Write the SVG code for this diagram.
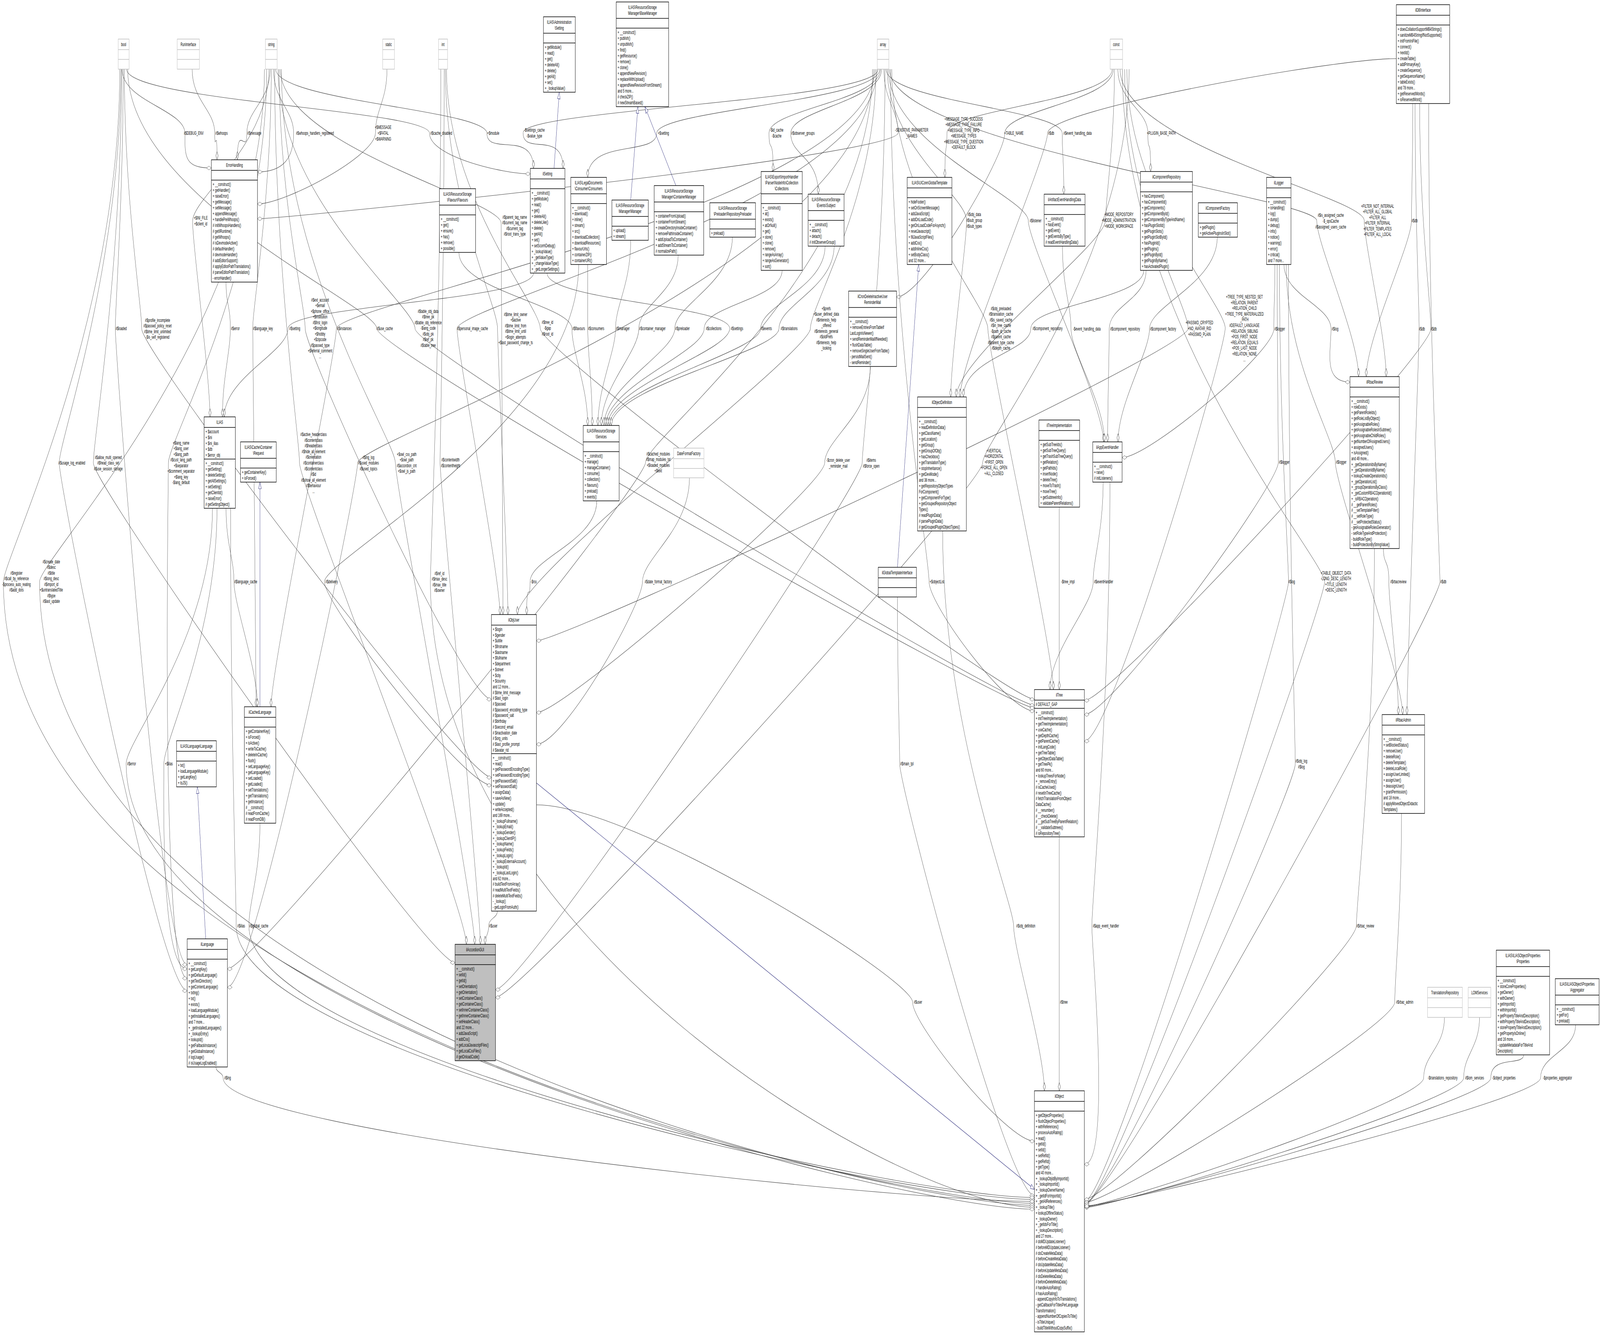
<svg xmlns="http://www.w3.org/2000/svg" width="7078" height="3417" viewBox="0 0 7078 3417" preserveAspectRatio="none" style="width:100vw;height:100vh;display:block">
<style>
text{font-family:"Liberation Sans",Arial,sans-serif;font-size:12px;fill:#000}
.c{text-anchor:middle}
.l{text-anchor:middle}
.n rect{fill:#fff;stroke:#000;stroke-width:1.5}
.n line{stroke:#000;stroke-width:1.5}
.u rect{stroke:#bfbfbf}
.u line{stroke:#bfbfbf}
.g rect{fill:#bfbfbf}
.e path{fill:none;stroke:#404040;stroke-width:1.1;marker-end:url(#dia)}
.i path{fill:none;stroke:#191970;stroke-width:1.1;marker-end:url(#tri)}
</style>
<defs>
<marker id="dia" markerWidth="24" markerHeight="12" refX="22" refY="6" orient="auto" markerUnits="userSpaceOnUse"><path d="M1,6 L11.5,1 L22,6 L11.5,11 Z" fill="#fff" stroke="#404040"/></marker>
<marker id="tri" markerWidth="20" markerHeight="14" refX="18" refY="7" orient="auto" markerUnits="userSpaceOnUse"><path d="M1,1 L18,7 L1,13 Z" fill="#fff" stroke="#191970"/></marker>
</defs>
<rect width="7078" height="3417" fill="#fff"/>

<g id="edges">
<g class="e">
<path d="M540,177 C540,259 818,281 818,341 C818,401 815,430 935,430"/>
<path d="M850,177 C850,259 950,281 950,341 C950,401 960,309 960,409"/>
<path d="M1195,177 C1195,259 1092,281 1092,341 C1092,401 1050,309 1050,409"/>
<path d="M1210,177 C1210,259 1299,281 1299,341 C1299,401 1259,440 1139,440"/>
<path d="M1712,177 C1712,258 1661,280 1661,340 C1661,400 1259,522 1139,522"/>
<path d="M560,177 C560,259 1900,281 1900,341 C1900,401 2226,445 2346,445"/>
<path d="M1220,177 C1220,259 2154,281 2154,341 C2154,401 2360,331 2360,431"/>
<path d="M3885,177 C3885,258 2314,280 2314,340 C2314,400 2491,331 2491,431"/>
<path d="M3892,177 C3892,259 2905,281 2905,341 C2905,401 2600,354 2600,454"/>
<path d="M3895,177 C3895,258 3402,280 3402,340 C3402,400 3420,339 3420,439"/>
<path d="M3900,177 C3900,259 3498,281 3498,341 C3498,401 3620,397 3620,497"/>
<path d="M3910,177 C3910,258 3973,280 3973,340 C3973,400 1259,560 1139,560"/>
<path d="M4920,177 C4920,258 4189,280 4189,340 C4189,400 4180,354 4180,454"/>
<path d="M4925,177 C4925,259 4445,281 4445,341 C4445,401 4086,760 3966,760"/>
<path d="M6177,150 C5900,150 4634,281 4634,341 C4634,401 4247,916 4247,1016"/>
<path d="M3920,177 C3920,259 4699,281 4699,341 C4699,401 4706,397 4706,497"/>
<path d="M4945,177 C4945,259 5078,281 5078,341 C5078,401 5090,339 5090,439"/>
<path d="M3925,177 C3925,370 4276,504 4276,564 C4276,624 4206,916 4206,1016"/>
<path d="M3930,177 C3930,371 4549,505 4549,565 C4549,625 4882,1031 4882,1131"/>
<path d="M4930,177 C4930,370 4891,504 4891,564 C4891,624 4230,916 4230,1016"/>
<path d="M3935,177 C3935,371 5825,505 5825,565 C5825,625 6010,864 6010,964"/>
<path d="M4955,177 C4955,370 6035,504 6035,564 C6035,624 6132,864 6132,964"/>
<path d="M6250,265 C6250,415 6244,505 6244,565 C6244,625 6044,864 6044,964"/>
<path d="M6260,265 C6260,553 6278,782 6278,842 C6278,902 6224,1729 6224,1829"/>
<path d="M6280,265 C6280,553 6330,782 6330,842 C6330,902 4917,1793 4797,1793"/>
<path d="M5640,677 C5640,757 5635,782 5635,842 C5635,902 5084,1171 4964,1171"/>
<path d="M5680,677 C5680,757 5888,782 5888,842 C5888,902 5852,978 5972,978"/>
<path d="M5650,677 C5650,928 5655,1123 5655,1183 C5655,1243 4917,1829 4797,1829"/>
<path d="M5690,677 C5690,928 5907,1123 5907,1183 C5907,1243 6205,1729 6205,1829"/>
<path d="M5660,677 C5660,1081 5700,1429 5700,1489 C5700,1549 4917,3075 4797,3075"/>
<path d="M5700,677 C5700,1314 5730,1895 5730,1955 C5730,2015 4917,3080 4797,3080"/>
<path d="M4965,177 C4965,833 5860,1429 5860,1489 C5860,1549 4917,3085 4797,3085"/>
<path d="M6120,1404 C6120,1448 6144,1429 6144,1489 C6144,1549 6186,1729 6186,1829"/>
<path d="M6080,1404 C6080,1889 6000,2310 6000,2370 C6000,2430 4917,3070 4797,3070"/>
<path d="M6200,2082 C6200,2323 6170,2505 6170,2565 C6170,2625 4917,3078 4797,3078"/>
<path d="M6320,265 C6320,877 6370,1429 6370,1489 C6370,1549 4917,3083 4797,3083"/>
<path d="M6390,2604 C6390,2681 6298,2699 6298,2759 C6298,2819 4917,3088 4797,3088"/>
<path d="M6545,2604 C6545,2681 6475,2699 6475,2759 C6475,2819 4917,3091 4797,3091"/>
<path d="M6740,2700 C6740,2730 6595,2699 6595,2759 C6595,2819 4917,3089 4797,3089"/>
<path d="M6970,2623 C6970,2691 6815,2699 6815,2759 C6815,2819 4917,3087 4797,3087"/>
<path d="M4910,1234 C4910,1802 4830,2310 4830,2370 C4830,2430 4917,2980 4797,2980"/>
<path d="M4880,1234 C4880,1362 4836,1429 4836,1489 C4836,1549 4645,1665 4645,1765"/>
<path d="M4686,1298 L4686,1765"/>
<path d="M4686,2142 L4686,2792"/>
<path d="M4170,1359 C4170,1865 4484,2310 4484,2370 C4484,2430 4620,2692 4620,2792"/>
<path d="M2373,2060 C2800,2060 4037,2505 4037,2565 C4037,2625 4456,2921 4576,2921"/>
<path d="M3970,1528 C3970,1742 3980,1895 3980,1955 C3980,2015 4456,3060 4576,3060"/>
<path d="M3940,177 C3940,833 4110,1429 4110,1489 C4110,1549 4456,1820 4576,1820"/>
<path d="M3945,177 C3945,509 4370,781 4370,841 C4370,901 4660,1665 4660,1765"/>
<path d="M5060,692 C5060,766 4560,781 4560,841 C4560,901 4262,916 4262,1016"/>
<path d="M4700,630 C4700,736 4738,782 4738,842 C4738,902 4886,1031 4886,1131"/>
<path d="M5070,692 C5070,767 4907,782 4907,842 C4907,902 4900,1031 4900,1131"/>
<path d="M5385,607 C5385,725 5085,782 5085,842 C5085,902 4946,1031 4946,1131"/>
<path d="M4975,177 C4975,509 5256,781 5256,841 C5256,901 2493,1640 2373,1640"/>
<path d="M4985,177 C4985,509 5420,780 5420,840 C5420,900 4917,1897 4797,1897"/>
<path d="M1975,177 C1975,509 2390,781 2390,841 C2390,901 4456,1790 4576,1790"/>
<path d="M2030,646 C2030,744 2530,781 2530,841 C2530,901 2600,989 2600,1089"/>
<path d="M2600,677 C2600,759 2600,781 2600,841 C2600,901 2620,989 2620,1089"/>
<path d="M2790,615 C2790,728 2723,781 2723,841 C2723,901 2645,989 2645,1089"/>
<path d="M3000,653 C3000,747 2826,781 2826,841 C2826,901 2660,989 2660,1089"/>
<path d="M3240,607 C3240,724 2985,781 2985,841 C2985,901 2672,989 2672,1089"/>
<path d="M3460,692 C3460,766 3115,781 3115,841 C3115,901 2680,989 2680,1089"/>
<path d="M2420,699 C2420,770 3228,781 3228,841 C3228,901 2688,989 2688,1089"/>
<path d="M3650,630 C3650,736 3365,781 3365,841 C3365,901 2696,989 2696,1089"/>
<path d="M3690,630 C3690,736 3446,781 3446,841 C3446,901 2704,989 2704,1089"/>
<path d="M3875,177 C3875,509 3585,781 3585,841 C3585,901 2289,1473 2289,1573"/>
<path d="M3850,938 C3850,1062 3648,1125 3648,1185 C3648,1245 2493,1824 2373,1824"/>
<path d="M3915,177 C3915,681 3814,1125 3814,1185 C3814,1245 2312,2533 2192,2533"/>
<path d="M4995,177 C4995,681 4347,1125 4347,1185 C4347,1245 2312,2553 2192,2553"/>
<path d="M3860,177 C3860,680 2856,1123 2856,1183 C2856,1243 1126,2480 1006,2480"/>
<path d="M3050,1223 C3050,1356 2842,1429 2842,1489 C2842,1549 2493,1905 2373,1905"/>
<path d="M2640,1282 C2640,1385 2345,1429 2345,1489 C2345,1549 2330,1473 2330,1573"/>
<path d="M3880,177 C3880,509 2022,781 2022,841 C2022,901 2212,1473 2212,1573"/>
<path d="M1970,177 C1970,509 2201,781 2201,841 C2201,901 2247,1473 2247,1573"/>
<path d="M1230,177 C1230,509 1836,781 1836,841 C1836,901 4456,1805 4576,1805"/>
<path d="M565,177 C565,509 1667,781 1667,841 C1667,901 4456,1812 4576,1812"/>
<path d="M3870,177 C3870,509 1488,781 1488,841 C1488,901 1199,1709 1199,1809"/>
<path d="M1235,177 C1235,509 1350,781 1350,841 C1350,901 2054,1790 2174,1790"/>
<path d="M2360,699 C2360,770 1274,781 1274,841 C1274,901 992,967 992,1067"/>
<path d="M1200,177 C1200,509 1118,781 1118,841 C1118,901 1133,1709 1133,1809"/>
<path d="M1000,722 C1000,781 1019,781 1019,841 C1019,901 984,967 984,1067"/>
<path d="M550,177 C550,509 627,782 627,842 C627,902 2054,1990 2174,1990"/>
<path d="M545,177 C545,509 510,781 510,841 C510,901 708,2469 828,2469"/>
<path d="M1190,177 C1190,371 852,506 852,566 C852,626 929,967 929,1067"/>
<path d="M1240,177 C1240,374 2217,511 2217,571 C2217,631 2225,1473 2225,1573"/>
<path d="M535,177 C535,681 262,1125 262,1185 C262,1245 708,2536 828,2536"/>
<path d="M538,177 C538,681 413,1125 413,1185 C413,1245 1893,2464 2013,2464"/>
<path d="M1180,177 C1180,681 745,1125 745,1185 C745,1245 708,2504 828,2504"/>
<path d="M1215,177 C1215,681 1325,1125 1325,1185 C1325,1245 2063,2317 2063,2417"/>
<path d="M3865,177 C3865,681 1582,1125 1582,1185 C1582,1245 1126,2527 1006,2527"/>
<path d="M1245,177 C1245,681 1749,1125 1749,1185 C1749,1245 2100,2317 2100,2417"/>
<path d="M1965,177 C1965,681 1947,1125 1947,1185 C1947,1245 2125,2317 2125,2417"/>
<path d="M530,177 C530,833 15,1429 15,1489 C15,2600 4000,3080 4576,3080"/>
<path d="M1170,177 C1170,833 175,1429 175,1489 C175,2600 4000,3085 4576,3085"/>
<path d="M1000,1301 C1000,1395 1035,1429 1035,1489 C1035,1549 1139,1709 1139,1809"/>
<path d="M2560,677 C2560,1083 1435,1429 1435,1489 C1435,1549 2054,2010 2174,2010"/>
<path d="M1950,177 C1950,833 1904,1429 1904,1489 C1904,2400 4000,3090 4576,3090"/>
<path d="M940,1301 C940,1628 558,1895 558,1955 C558,2600 4000,3095 4576,3095"/>
<path d="M960,1301 C960,1628 725,1895 725,1955 C725,2015 708,2480 828,2480"/>
<path d="M1020,1301 C1020,1835 1045,2310 1045,2370 C1045,2700 4000,3070 4576,3070"/>
<path d="M1150,2107 C1150,2238 1101,2310 1101,2370 C1101,2700 4000,3065 4576,3065"/>
<path d="M2200,2332 C2200,2350 2162,2350 2162,2370 C2162,2390 2146,2397 2146,2417"/>
<path d="M955,2731 C955,2745 987,2745 987,2759 C987,2900 4000,3075 4576,3075"/>
</g>
<g class="i">
<path d="M2451,431 L2474,236"/>
<path d="M2790,512 L2822,273"/>
<path d="M2990,475 L2853,273"/>
<path d="M3970,1452 L4064,677"/>
<path d="M1150,1809 L1150,1234"/>
<path d="M910,2403 L873,2014"/>
<path d="M2373,2004 L4576,3044"/>
</g>
<g id="labels">
<text class="l" x="857" y="345">#$DEBUG_ENV</text>
<text class="l" x="980" y="345">#$whoops</text>
<text class="l" x="1125" y="345">#$message</text>
<text class="l" x="1393" y="345">#$whoops_handlers_registered</text>
<text class="l" x="1695" y="330">+$MESSAGE<tspan x="1695" dy="15">+$FATAL</tspan><tspan x="1695" dy="15">+$WARNING</tspan></text>
<text class="l" x="1952" y="345">#$cache_disabled</text>
<text class="l" x="2182" y="345">+$module</text>
<text class="l" x="2364" y="337">-$settings_cache<tspan x="2364" dy="15">-$value_type</tspan></text>
<text class="l" x="2935" y="345">+$setting</text>
<text class="l" x="3436" y="337">-$id_cache<tspan x="3436" dy="15">-$cache</tspan></text>
<text class="l" x="3552" y="345">#$observer_groups</text>
<text class="l" x="4033" y="337">-SENSITIVE_PARAMETER<tspan x="4033" dy="15">_NAMES</tspan></text>
<text class="l" x="4263" y="309">+MESSAGE_TYPE_SUCCESS<tspan x="4263" dy="14.5">+MESSAGE_TYPE_FAILURE</tspan><tspan x="4263" dy="14.5">+MESSAGE_TYPE_INFO</tspan><tspan x="4263" dy="14.5">+MESSAGE_TYPES</tspan><tspan x="4263" dy="14.5">+MESSAGE_TYPE_QUESTION</tspan><tspan x="4263" dy="14.5">+DEFAULT_BLOCK</tspan></text>
<text class="l" x="4485" y="345">+TABLE_NAME</text>
<text class="l" x="4650" y="345">#$db</text>
<text class="l" x="4767" y="345">#$event_handling_data</text>
<text class="l" x="5137" y="345">+PLUGIN_BASE_PATH</text>
<text class="l" x="888" y="562">+$INI_FILE<tspan x="888" dy="15">+$client_id</tspan></text>
<text class="l" x="2277" y="560">#$parent_tag_name<tspan x="2277" dy="14.5">#$current_tag_name</tspan><tspan x="2277" dy="14.5">#$current_tag</tspan><tspan x="2277" dy="14.5">#$root_trans_type</tspan></text>
<text class="l" x="4310" y="553">#$obj_data<tspan x="4310" dy="15">#$sub_group</tspan><tspan x="4310" dy="15">#$sub_types</tspan></text>
<text class="l" x="4581" y="569">#$listener</text>
<text class="l" x="4950" y="553">+MODE_REPOSITORY<tspan x="4950" dy="15">+MODE_ADMINISTRATION</tspan><tspan x="4950" dy="15">+MODE_WORKSPACE</tspan></text>
<text class="l" x="5887" y="555">#$is_assigned_cache<tspan x="5887" dy="15">-$_opsCache</tspan><tspan x="5887" dy="15">#$assigned_users_cache</tspan></text>
<text class="l" x="6094" y="532">+FILTER_NOT_INTERNAL<tspan x="6094" dy="14.5">+FILTER_ALL_GLOBAL</tspan><tspan x="6094" dy="14.5">+FILTER_ALL</tspan><tspan x="6094" dy="14.5">+FILTER_INTERNAL</tspan><tspan x="6094" dy="14.5">+FILTER_TEMPLATES</tspan><tspan x="6094" dy="14.5">+FILTER_ALL_LOCAL</tspan></text>
<text class="l" x="6258" y="569">#$db</text>
<text class="l" x="536" y="845">#$loaded</text>
<text class="l" x="697" y="824">#$profile_incomplete<tspan x="697" dy="14.5">#$passwd_policy_reset</tspan><tspan x="697" dy="14.5">#$time_limit_unlimited</tspan><tspan x="697" dy="14.5">-$is_self_registered</tspan></text>
<text class="l" x="1041" y="845">#$error</text>
<text class="l" x="1163" y="845">#$language_key</text>
<text class="l" x="1304" y="845">#$setting</text>
<text class="l" x="1416" y="772">#$ext_account<tspan x="1416" dy="14.5">+$email</tspan><tspan x="1416" dy="14.5">+$phone_office</tspan><tspan x="1416" dy="14.5">+$institution</tspan><tspan x="1416" dy="14.5">#$first_login</tspan><tspan x="1416" dy="14.5">+$longitude</tspan><tspan x="1416" dy="14.5">+$hobby</tspan><tspan x="1416" dy="14.5">+$zipcode</tspan><tspan x="1416" dy="14.5">#$passwd_type</tspan><tspan x="1416" dy="14.5">+$referral_comment</tspan><tspan x="1416" dy="14.5">...</tspan></text>
<text class="l" x="1523" y="845">#$instances</text>
<text class="l" x="1702" y="845">#$use_cache</text>
<text class="l" x="1894" y="801">#$table_obj_data<tspan x="1894" dy="14.5">#$tree_pk</tspan><tspan x="1894" dy="14.5">#$table_obj_reference</tspan><tspan x="1894" dy="14.5">-$lang_code</tspan><tspan x="1894" dy="14.5">#$obj_pk</tspan><tspan x="1894" dy="14.5">#$ref_pk</tspan><tspan x="1894" dy="14.5">#$table_tree</tspan></text>
<text class="l" x="2090" y="845">#$personal_image_cache</text>
<text class="l" x="2281" y="809">#$time_limit_owner<tspan x="2281" dy="14.5">+$active</tspan><tspan x="2281" dy="14.5">#$time_limit_from</tspan><tspan x="2281" dy="14.5">#$time_limit_until</tspan><tspan x="2281" dy="14.5">+$login_attempts</tspan><tspan x="2281" dy="14.5">+$last_password_change_ts</tspan></text>
<text class="l" x="2422" y="829">#$tree_id<tspan x="2422" dy="15">-$gap</tspan><tspan x="2422" dy="15">#$root_id</tspan></text>
<text class="l" x="2560" y="845">#$flavours</text>
<text class="l" x="2637" y="845">#$consumers</text>
<text class="l" x="2755" y="845">#$manager</text>
<text class="l" x="2886" y="845">#$container_manager</text>
<text class="l" x="3019" y="845">#$preloader</text>
<text class="l" x="3157" y="845">#$collections</text>
<text class="l" x="3260" y="845">#$settings</text>
<text class="l" x="3390" y="845">#$events</text>
<text class="l" x="3491" y="845">#$translations</text>
<text class="l" x="3655" y="794">+$prefs<tspan x="3655" dy="14.5">+$user_defined_data</tspan><tspan x="3655" dy="14.5">#$interests_help</tspan><tspan x="3655" dy="14.5">_offered</tspan><tspan x="3655" dy="14.5">#$interests_general</tspan><tspan x="3655" dy="14.5">#$oldPrefs</tspan><tspan x="3655" dy="14.5">#$interests_help</tspan><tspan x="3655" dy="14.5">_looking</tspan></text>
<text class="l" x="4428" y="794">#$obj_preloaded<tspan x="4428" dy="14.5">#$translation_cache</tspan><tspan x="4428" dy="14.5">#$is_saved_cache</tspan><tspan x="4428" dy="14.5">#$in_tree_cache</tspan><tspan x="4428" dy="14.5">-$path_id_cache</tspan><tspan x="4428" dy="14.5">#$parent_cache</tspan><tspan x="4428" dy="14.5">#$parent_type_cache</tspan><tspan x="4428" dy="14.5">#$depth_cache</tspan></text>
<text class="l" x="4634" y="845">#$component_repository</text>
<text class="l" x="4808" y="846">-$event_handling_data</text>
<text class="l" x="4977" y="846">#$component_repository</text>
<text class="l" x="5145" y="846">#$component_factory</text>
<text class="l" x="5306" y="830">+PASSWD_CRYPTED<tspan x="5306" dy="15">+NO_AVATAR_RID</tspan><tspan x="5306" dy="15">+PASSWD_PLAIN</tspan></text>
<text class="l" x="5505" y="764">+TREE_TYPE_NESTED_SET<tspan x="5505" dy="14.6">+RELATION_PARENT</tspan><tspan x="5505" dy="14.6">+RELATION_CHILD</tspan><tspan x="5505" dy="14.6">+TREE_TYPE_MATERIALIZED</tspan><tspan x="5505" dy="14.6">_PATH</tspan><tspan x="5505" dy="14.6">#DEFAULT_LANGUAGE</tspan><tspan x="5505" dy="14.6">+RELATION_SIBLING</tspan><tspan x="5505" dy="14.6">+POS_FIRST_NODE</tspan><tspan x="5505" dy="14.6">+RELATION_EQUALS</tspan><tspan x="5505" dy="14.6">+POS_LAST_NODE</tspan><tspan x="5505" dy="14.6">+RELATION_NONE</tspan><tspan x="5505" dy="14.6">...</tspan></text>
<text class="l" x="5661" y="846">#$logger</text>
<text class="l" x="5906" y="846">#$log</text>
<text class="l" x="6290" y="846">#$db</text>
<text class="l" x="6342" y="846">#$db</text>
<text class="l" x="5681" y="1187">#$logger</text>
<text class="l" x="5933" y="1187">#$logger</text>
<text class="l" x="318" y="1189">#$usage_log_enabled</text>
<text class="l" x="479" y="1175">#$allow_multi_opened<tspan x="479" dy="14.5">#$head_class_set</tspan><tspan x="479" dy="14.5">#$use_session_storage</tspan></text>
<text class="l" x="801" y="1138">+$lang_name<tspan x="801" dy="14.5">+$lang_user</tspan><tspan x="801" dy="14.5">+$lang_path</tspan><tspan x="801" dy="14.5">#$cust_lang_path</tspan><tspan x="801" dy="14.5">+$separator</tspan><tspan x="801" dy="14.5">+$comment_separator</tspan><tspan x="801" dy="14.5">+$lang_key</tspan><tspan x="801" dy="14.5">-$lang_default</tspan></text>
<text class="l" x="1387" y="1116">#$active_headerclass<tspan x="1387" dy="14.6">#$contentclass</tspan><tspan x="1387" dy="14.6">#$headerclass</tspan><tspan x="1387" dy="14.6">#$hide_all_element</tspan><tspan x="1387" dy="14.6">#$orientation</tspan><tspan x="1387" dy="14.6">#$containerclass</tspan><tspan x="1387" dy="14.6">#$contentclass</tspan><tspan x="1387" dy="14.6">#$id</tspan><tspan x="1387" dy="14.6">#$show_all_element</tspan><tspan x="1387" dy="14.6">#$behaviour</tspan><tspan x="1387" dy="14.6">...</tspan></text>
<text class="l" x="1630" y="1175">#$lng_log<tspan x="1630" dy="14.5">#$used_modules</tspan><tspan x="1630" dy="14.5">#$used_topics</tspan></text>
<text class="l" x="1799" y="1167">+$owl_css_path<tspan x="1799" dy="14.5">+$owl_path</tspan><tspan x="1799" dy="14.5">#$accordion_cnt</tspan><tspan x="1799" dy="14.5">+$owl_js_path</tspan></text>
<text class="l" x="1993" y="1181">#$contentwidth<tspan x="1993" dy="15">#$contentheight</tspan></text>
<text class="l" x="2912" y="1166">#$cached_modules<tspan x="2912" dy="14.5">#$map_modules_txt</tspan><tspan x="2912" dy="14.5">+$loaded_modules</tspan><tspan x="2912" dy="14.5">+$text</tspan></text>
<text class="l" x="3708" y="1182">-$cron_delete_user<tspan x="3708" dy="15">_reminder_mail</tspan></text>
<text class="l" x="3854" y="1182">#$items<tspan x="3854" dy="15">#$force_open</tspan></text>
<text class="l" x="4397" y="1158">+VERTICAL<tspan x="4397" dy="14.5">+HORIZONTAL</tspan><tspan x="4397" dy="14.5">+FIRST_OPEN</tspan><tspan x="4397" dy="14.5">+FORCE_ALL_OPEN</tspan><tspan x="4397" dy="14.5">+ALL_CLOSED</tspan></text>
<text class="l" x="73" y="1471">#$register<tspan x="73" dy="14.5">#$call_by_reference</tspan><tspan x="73" dy="14.5">-$process_auto_reating</tspan><tspan x="73" dy="14.5">#$add_dots</tspan></text>
<text class="l" x="227" y="1442">#$create_date<tspan x="227" dy="14.5">#$desc</tspan><tspan x="227" dy="14.5">#$title</tspan><tspan x="227" dy="14.5">#$long_desc</tspan><tspan x="227" dy="14.5">#$import_id</tspan><tspan x="227" dy="14.5">+$untranslatedTitle</tspan><tspan x="227" dy="14.5">#$type</tspan><tspan x="227" dy="14.5">#$last_update</tspan></text>
<text class="l" x="1087" y="1493">#$language_cache</text>
<text class="l" x="1467" y="1493">#$delivery</text>
<text class="l" x="1944" y="1472">#$ref_id<tspan x="1944" dy="14.5">#$max_desc</tspan><tspan x="1944" dy="14.5">#$max_title</tspan><tspan x="1944" dy="14.5">#$owner</tspan></text>
<text class="l" x="2361" y="1493">-$rss</text>
<text class="l" x="2912" y="1493">#$date_format_factory</text>
<text class="l" x="4145" y="1493">+$objectList</text>
<text class="l" x="4724" y="1493">-$tree_impl</text>
<text class="l" x="4882" y="1493">#$eventHandler</text>
<text class="l" x="5714" y="1493">#$log</text>
<text class="l" x="5910" y="1471">+TABLE_OBJECT_DATA<tspan x="5910" dy="14.5">-LONG_DESC_LENGTH</tspan><tspan x="5910" dy="14.5">+TITLE_LENGTH</tspan><tspan x="5910" dy="14.5">+DESC_LENGTH</tspan></text>
<text class="l" x="6186" y="1493">#$rbacreview</text>
<text class="l" x="6385" y="1493">#$db</text>
<text class="l" x="582" y="1959">#$error</text>
<text class="l" x="747" y="1959">+$ilias</text>
<text class="l" x="4012" y="1959">#$main_tpl</text>
<text class="l" x="5757" y="1952">#$obj_log<tspan x="5757" dy="15">#$log</tspan></text>
<text class="l" x="1067" y="2374">#$ilias</text>
<text class="l" x="1145" y="2374">#$global_cache</text>
<text class="l" x="2182" y="2374">#$user</text>
<text class="l" x="4538" y="2374">#$obj_definition</text>
<text class="l" x="4892" y="2374">#$app_event_handler</text>
<text class="l" x="6040" y="2374">#$rbac_review</text>
<text class="l" x="4061" y="2569">#$user</text>
<text class="l" x="4706" y="2569">#$tree</text>
<text class="l" x="6214" y="2569">#$rbac_admin</text>
<text class="l" x="1007" y="2763">#$lng</text>
<text class="l" x="6382" y="2763">-$translations_repository</text>
<text class="l" x="6523" y="2763">#$lom_services</text>
<text class="l" x="6653" y="2763">-$object_properties</text>
<text class="l" x="6890" y="2763">-$properties_aggregator</text>
</g>
</g>

<g id="bool" class="n u"><rect x="523" y="100" width="48" height="77"/><line x1="523" y1="127" x2="571" y2="127"/><line x1="523" y1="152" x2="571" y2="152"/><text class="c" x="547" y="118">bool</text></g>
<g id="RunInterface" class="n u"><rect x="784" y="100" width="98" height="77"/><line x1="784" y1="127" x2="882" y2="127"/><line x1="784" y1="152" x2="882" y2="152"/><text class="c" x="833" y="118">RunInterface</text></g>
<g id="string" class="n u"><rect x="1174" y="100" width="52" height="77"/><line x1="1174" y1="127" x2="1226" y2="127"/><line x1="1174" y1="152" x2="1226" y2="152"/><text class="c" x="1200" y="118">string</text></g>
<g id="static" class="n u"><rect x="1693" y="100" width="52" height="77"/><line x1="1693" y1="127" x2="1745" y2="127"/><line x1="1693" y1="152" x2="1745" y2="152"/><text class="c" x="1719" y="118">static</text></g>
<g id="int" class="n u"><rect x="1940" y="100" width="40" height="77"/><line x1="1940" y1="127" x2="1980" y2="127"/><line x1="1940" y1="152" x2="1980" y2="152"/><text class="c" x="1960" y="118">int</text></g>
<g id="array" class="n u"><rect x="3881" y="100" width="51" height="77"/><line x1="3881" y1="127" x2="3932" y2="127"/><line x1="3881" y1="152" x2="3932" y2="152"/><text class="c" x="3906" y="118">array</text></g>
<g id="const" class="n u"><rect x="4911" y="100" width="55" height="77"/><line x1="4911" y1="127" x2="4966" y2="127"/><line x1="4911" y1="152" x2="4966" y2="152"/><text class="c" x="4938" y="118">const</text></g>
<g id="DateFormatFactory" class="n u"><rect x="2980" y="1147" width="134" height="76"/><line x1="2980" y1="1174" x2="3114" y2="1174"/><line x1="2980" y1="1199" x2="3114" y2="1199"/><text class="c" x="3047" y="1165">DateFormatFactory</text></g>
<g id="TranslationsRepository" class="n u"><rect x="6315" y="2527" width="154" height="77"/><line x1="6315" y1="2554" x2="6469" y2="2554"/><line x1="6315" y1="2579" x2="6469" y2="2579"/><text class="c" x="6392" y="2545">TranslationsRepository</text></g>
<g id="LOMServices" class="n u"><rect x="6495" y="2527" width="100" height="77"/><line x1="6495" y1="2554" x2="6595" y2="2554"/><line x1="6495" y1="2579" x2="6595" y2="2579"/><text class="c" x="6545" y="2545">LOMServices</text></g>
<g id="ilGlobalTemplateInterface" class="n"><rect x="3885" y="1452" width="169" height="76"/><line x1="3885" y1="1479" x2="4054" y2="1479"/><line x1="3885" y1="1504" x2="4054" y2="1504"/><text class="c" x="3969" y="1470">ilGlobalTemplateInterface</text></g>

<g id="ErrorHandling" class="n"><rect x="935" y="409" width="204" height="313"/><line x1="935" y1="436" x2="1139" y2="436"/><line x1="935" y1="461" x2="1139" y2="461"/><text class="c" x="1037" y="427">ErrorHandling</text>
<text x="941" y="476">+ __construct()<tspan x="941" dy="15">+ getHandler()</tspan><tspan x="941" dy="15">+ raiseError()</tspan><tspan x="941" dy="15">+ getMessage()</tspan><tspan x="941" dy="15">+ setMessage()</tspan><tspan x="941" dy="15">+ appendMessage()</tspan><tspan x="941" dy="15">+ handlePreWhoops()</tspan><tspan x="941" dy="15"># initWhoopsHandlers()</tspan><tspan x="941" dy="15"># getIlRuntime()</tspan><tspan x="941" dy="15"># getWhoops()</tspan><tspan x="941" dy="15"># isDevmodeActive()</tspan><tspan x="941" dy="15"># defaultHandler()</tspan><tspan x="941" dy="15"># devmodeHandler()</tspan><tspan x="941" dy="15"># addEditorSupport()</tspan><tspan x="941" dy="15"># applyEditorPathTranslations()</tspan><tspan x="941" dy="15"># parseEditorPathTranslation()</tspan><tspan x="941" dy="15">- errorHandler()</tspan></text></g>

<g id="Flavours" class="n"><rect x="1944" y="483" width="160" height="163"/><line x1="1944" y1="525" x2="2104" y2="525"/><line x1="1944" y1="550" x2="2104" y2="550"/><text class="c" x="2024" y="501">ILIAS\ResourceStorage<tspan x="2024" dy="15">\Flavour\Flavours</tspan></text>
<text x="1950" y="565">+ __construct()<tspan x="1950" dy="15">+ get()</tspan><tspan x="1950" dy="15">+ ensure()</tspan><tspan x="1950" dy="15">+ has()</tspan><tspan x="1950" dy="15">+ remove()</tspan><tspan x="1950" dy="15">+ possible()</tspan></text></g>

<g id="ilSetting" class="n"><rect x="2346" y="431" width="153" height="268"/><line x1="2346" y1="458" x2="2499" y2="458"/><line x1="2346" y1="483" x2="2499" y2="483"/><text class="c" x="2422" y="449">ilSetting</text>
<text x="2352" y="498">+ __construct()<tspan x="2352" dy="15">+ getModule()</tspan><tspan x="2352" dy="15">+ read()</tspan><tspan x="2352" dy="15">+ get()</tspan><tspan x="2352" dy="15">+ deleteAll()</tspan><tspan x="2352" dy="15">+ deleteLike()</tspan><tspan x="2352" dy="15">+ delete()</tspan><tspan x="2352" dy="15">+ getAll()</tspan><tspan x="2352" dy="15">+ set()</tspan><tspan x="2352" dy="15">+ setScormDebug()</tspan><tspan x="2352" dy="15">+ _lookupValue()</tspan><tspan x="2352" dy="15">+ _getValueType()</tspan><tspan x="2352" dy="15">+ _changeValueType()</tspan><tspan x="2352" dy="15">+ _getLongerSettings()</tspan></text></g>

<g id="AdministrationSetting" class="n"><rect x="2404" y="43" width="141" height="193"/><line x1="2404" y1="85" x2="2545" y2="85"/><line x1="2404" y1="110" x2="2545" y2="110"/><text class="c" x="2474" y="61">ILIAS\Administration<tspan x="2474" dy="15">\Setting</tspan></text>
<text x="2410" y="125">+ getModule()<tspan x="2410" dy="15">+ read()</tspan><tspan x="2410" dy="15">+ get()</tspan><tspan x="2410" dy="15">+ deleteAll()</tspan><tspan x="2410" dy="15">+ delete()</tspan><tspan x="2410" dy="15">+ getAll()</tspan><tspan x="2410" dy="15">+ set()</tspan><tspan x="2410" dy="15">+ _lookupValue()</tspan></text></g>

<g id="BaseManager" class="n"><rect x="2726" y="5" width="232" height="268"/><line x1="2726" y1="47" x2="2958" y2="47"/><line x1="2726" y1="72" x2="2958" y2="72"/><text class="c" x="2842" y="23">ILIAS\ResourceStorage<tspan x="2842" dy="15">\Manager\BaseManager</tspan></text>
<text x="2732" y="87">+ __construct()<tspan x="2732" dy="15">+ publish()</tspan><tspan x="2732" dy="15">+ unpublish()</tspan><tspan x="2732" dy="15">+ find()</tspan><tspan x="2732" dy="15">+ getResource()</tspan><tspan x="2732" dy="15">+ remove()</tspan><tspan x="2732" dy="15">+ clone()</tspan><tspan x="2732" dy="15">+ appendNewRevision()</tspan><tspan x="2732" dy="15">+ replaceWithUpload()</tspan><tspan x="2732" dy="15">+ appendNewRevisionFromStream()</tspan><tspan x="2732" dy="15">and 5 more...</tspan><tspan x="2732" dy="15"># checkZIP()</tspan><tspan x="2732" dy="15"># newStreamBased()</tspan></text></g>

<g id="Consumers" class="n"><rect x="2525" y="454" width="158" height="223"/><line x1="2525" y1="496" x2="2683" y2="496"/><line x1="2525" y1="521" x2="2683" y2="521"/><text class="c" x="2604" y="472">ILIAS\LegalDocuments<tspan x="2604" dy="15">\Consumer\Consumers</tspan></text>
<text x="2531" y="536">+ __construct()<tspan x="2531" dy="15">+ download()</tspan><tspan x="2531" dy="15">+ inline()</tspan><tspan x="2531" dy="15">+ stream()</tspan><tspan x="2531" dy="15">+ src()</tspan><tspan x="2531" dy="15">+ downloadCollection()</tspan><tspan x="2531" dy="15">+ downloadResources()</tspan><tspan x="2531" dy="15">+ flavourUrls()</tspan><tspan x="2531" dy="15">+ containerZIP()</tspan><tspan x="2531" dy="15">+ containerURI()</tspan></text></g>

<g id="Manager" class="n"><rect x="2707" y="512" width="161" height="103"/><line x1="2707" y1="554" x2="2868" y2="554"/><line x1="2707" y1="579" x2="2868" y2="579"/><text class="c" x="2787" y="530">ILIAS\ResourceStorage<tspan x="2787" dy="15">\Manager\Manager</tspan></text>
<text x="2713" y="594">+ upload()<tspan x="2713" dy="15">+ stream()</tspan></text></g>

<g id="ContainerManager" class="n"><rect x="2894" y="475" width="219" height="178"/><line x1="2894" y1="517" x2="3113" y2="517"/><line x1="2894" y1="542" x2="3113" y2="542"/><text class="c" x="3003" y="493">ILIAS\ResourceStorage<tspan x="3003" dy="15">\Manager\ContainerManager</tspan></text>
<text x="2900" y="557">+ containerFromUpload()<tspan x="2900" dy="15">+ containerFromStream()</tspan><tspan x="2900" dy="15">+ createDirectoryInsideContainer()</tspan><tspan x="2900" dy="15">+ removePathInsideContainer()</tspan><tspan x="2900" dy="15">+ addUploadToContainer()</tspan><tspan x="2900" dy="15">+ addStreamToContainer()</tspan><tspan x="2900" dy="15"># normalizePath()</tspan></text></g>

<g id="RepositoryPreloader" class="n"><rect x="3140" y="519" width="202" height="88"/><line x1="3140" y1="561" x2="3342" y2="561"/><line x1="3140" y1="586" x2="3342" y2="586"/><text class="c" x="3241" y="537">ILIAS\ResourceStorage<tspan x="3241" dy="15">\Preloader\RepositoryPreloader</tspan></text>
<text x="3146" y="601">+ preload()</text></g>

<g id="Collections" class="n"><rect x="3367" y="439" width="182" height="253"/><line x1="3367" y1="496" x2="3549" y2="496"/><line x1="3367" y1="521" x2="3549" y2="521"/><text class="c" x="3458" y="457">ILIAS\Export\ImportHandler<tspan x="3458" dy="15">\Parser\NodeInfo\Collection</tspan><tspan x="3458" dy="15">\Collections</tspan></text>
<text x="3373" y="536">+ __construct()<tspan x="3373" dy="15">+ at()</tspan><tspan x="3373" dy="15">+ exists()</tspan><tspan x="3373" dy="15">+ atOrNull()</tspan><tspan x="3373" dy="15">+ get()</tspan><tspan x="3373" dy="15">+ store()</tspan><tspan x="3373" dy="15">+ clone()</tspan><tspan x="3373" dy="15">+ remove()</tspan><tspan x="3373" dy="15">+ rangeAsArray()</tspan><tspan x="3373" dy="15">+ rangeAsGenerator()</tspan><tspan x="3373" dy="15">+ sort()</tspan></text></g>

<g id="Subject" class="n"><rect x="3575" y="497" width="159" height="133"/><line x1="3575" y1="539" x2="3734" y2="539"/><line x1="3575" y1="564" x2="3734" y2="564"/><text class="c" x="3654" y="515">ILIAS\ResourceStorage<tspan x="3654" dy="15">\Events\Subject</tspan></text>
<text x="3581" y="579">+ __construct()<tspan x="3581" dy="15">+ attach()</tspan><tspan x="3581" dy="15">+ detach()</tspan><tspan x="3581" dy="15"># initObserverGroup()</tspan></text></g>

<g id="GlobalTemplate" class="n"><rect x="4013" y="454" width="198" height="223"/><line x1="4013" y1="481" x2="4211" y2="481"/><line x1="4013" y1="506" x2="4211" y2="506"/><text class="c" x="4112" y="472">ILIAS\UICore\GlobalTemplate</text>
<text x="4019" y="521">+ hideFooter()<tspan x="4019" dy="15">+ setOnScreenMessage()</tspan><tspan x="4019" dy="15">+ addJavaScript()</tspan><tspan x="4019" dy="15">+ addOnLoadCode()</tspan><tspan x="4019" dy="15">+ getOnLoadCodeForAsynch()</tspan><tspan x="4019" dy="15">+ resetJavascript()</tspan><tspan x="4019" dy="15">+ fillJavaScriptFiles()</tspan><tspan x="4019" dy="15">+ addCss()</tspan><tspan x="4019" dy="15">+ addInlineCss()</tspan><tspan x="4019" dy="15">+ setBodyClass()</tspan><tspan x="4019" dy="15">and 32 more...</tspan></text></g>

<g id="ilArtifactEventHandlingData" class="n"><rect x="4619" y="497" width="181" height="133"/><line x1="4619" y1="524" x2="4800" y2="524"/><line x1="4619" y1="549" x2="4800" y2="549"/><text class="c" x="4709" y="515">ilArtifactEventHandlingData</text>
<text x="4625" y="564">+ __construct()<tspan x="4625" dy="15">+ hasEvent()</tspan><tspan x="4625" dy="15">+ getEvent()</tspan><tspan x="4625" dy="15">+ getEventsByType()</tspan><tspan x="4625" dy="15"># readEventHandlingData()</tspan></text></g>

<g id="ComponentRepository" class="n"><rect x="5045" y="439" width="230" height="253"/><line x1="5045" y1="466" x2="5275" y2="466"/><line x1="5045" y1="491" x2="5275" y2="491"/><text class="c" x="5160" y="457">ilComponentRepository</text>
<text x="5051" y="506">+ hasComponent()<tspan x="5051" dy="15">+ hasComponentId()</tspan><tspan x="5051" dy="15">+ getComponents()</tspan><tspan x="5051" dy="15">+ getComponentById()</tspan><tspan x="5051" dy="15">+ getComponentByTypeAndName()</tspan><tspan x="5051" dy="15">+ hasPluginSlotId()</tspan><tspan x="5051" dy="15">+ getPluginSlots()</tspan><tspan x="5051" dy="15">+ getPluginSlotById()</tspan><tspan x="5051" dy="15">+ hasPluginId()</tspan><tspan x="5051" dy="15">+ getPlugins()</tspan><tspan x="5051" dy="15">+ getPluginById()</tspan><tspan x="5051" dy="15">+ getPluginByName()</tspan><tspan x="5051" dy="15">+ hasActivatedPlugin()</tspan></text></g>

<g id="ilComponentFactory" class="n"><rect x="5301" y="519" width="173" height="88"/><line x1="5301" y1="546" x2="5474" y2="546"/><line x1="5301" y1="571" x2="5474" y2="571"/><text class="c" x="5387" y="537">ilComponentFactory</text>
<text x="5307" y="586">+ getPlugin()<tspan x="5307" dy="15">+ getActivePluginsInSlot()</tspan></text></g>

<g id="ilLogger" class="n"><rect x="5603" y="454" width="108" height="223"/><line x1="5603" y1="481" x2="5711" y2="481"/><line x1="5603" y1="506" x2="5711" y2="506"/><text class="c" x="5657" y="472">ilLogger</text>
<text x="5609" y="521">+ __construct()<tspan x="5609" dy="15">+ isHandling()</tspan><tspan x="5609" dy="15">+ log()</tspan><tspan x="5609" dy="15">+ dump()</tspan><tspan x="5609" dy="15">+ debug()</tspan><tspan x="5609" dy="15">+ info()</tspan><tspan x="5609" dy="15">+ notice()</tspan><tspan x="5609" dy="15">+ warning()</tspan><tspan x="5609" dy="15">+ error()</tspan><tspan x="5609" dy="15">+ critical()</tspan><tspan x="5609" dy="15">and 7 more...</tspan></text></g>

<g id="ilDBInterface" class="n"><rect x="6177" y="12" width="236" height="253"/><line x1="6177" y1="39" x2="6413" y2="39"/><line x1="6177" y1="64" x2="6413" y2="64"/><text class="c" x="6295" y="30">ilDBInterface</text>
<text x="6183" y="79">+ doesCollationSupportMB4Strings()<tspan x="6183" dy="15">+ sanitizeMB4StringIfNotSupported()</tspan><tspan x="6183" dy="15">+ initFromIniFile()</tspan><tspan x="6183" dy="15">+ connect()</tspan><tspan x="6183" dy="15">+ nextId()</tspan><tspan x="6183" dy="15">+ createTable()</tspan><tspan x="6183" dy="15">+ addPrimaryKey()</tspan><tspan x="6183" dy="15">+ createSequence()</tspan><tspan x="6183" dy="15">+ getSequenceName()</tspan><tspan x="6183" dy="15">+ tableExists()</tspan><tspan x="6183" dy="15">and 78 more...</tspan><tspan x="6183" dy="15">+ getReservedWords()</tspan><tspan x="6183" dy="15">+ isReservedWord()</tspan></text></g>

<g id="ILIAS" class="n"><rect x="903" y="1067" width="138" height="234"/><line x1="903" y1="1094" x2="1041" y2="1094"/><line x1="903" y1="1175" x2="1041" y2="1175"/><text class="c" x="972" y="1085">ILIAS</text>
<text x="909" y="1109">+ $account<tspan x="909" dy="15">+ $ini</tspan><tspan x="909" dy="15">+ $ini_ilias</tspan><tspan x="909" dy="15">+ $db</tspan><tspan x="909" dy="15">+ $error_obj</tspan></text>
<text x="909" y="1190">+ __construct()<tspan x="909" dy="15">+ getSetting()</tspan><tspan x="909" dy="15">+ deleteSetting()</tspan><tspan x="909" dy="15">+ getAllSettings()</tspan><tspan x="909" dy="15">+ setSetting()</tspan><tspan x="909" dy="15">+ getClientId()</tspan><tspan x="909" dy="15">+ raiseError()</tspan><tspan x="909" dy="15"># getSettingObject()</tspan></text></g>

<g id="Request" class="n"><rect x="1064" y="1131" width="158" height="103"/><line x1="1064" y1="1173" x2="1222" y2="1173"/><line x1="1064" y1="1198" x2="1222" y2="1198"/><text class="c" x="1143" y="1149">ILIAS\Cache\Container<tspan x="1143" dy="15">\Request</tspan></text>
<text x="1070" y="1213">+ getContainerKey()<tspan x="1070" dy="15">+ isForced()</tspan></text></g>

<g id="ilCachedLanguage" class="n"><rect x="1081" y="1809" width="139" height="298"/><line x1="1081" y1="1836" x2="1220" y2="1836"/><line x1="1081" y1="1861" x2="1220" y2="1861"/><text class="c" x="1150" y="1827">ilCachedLanguage</text>
<text x="1087" y="1876">+ getContainerKey()<tspan x="1087" dy="15">+ isForced()</tspan><tspan x="1087" dy="15">+ isActive()</tspan><tspan x="1087" dy="15">+ writeToCache()</tspan><tspan x="1087" dy="15">+ deleteInCache()</tspan><tspan x="1087" dy="15">+ flush()</tspan><tspan x="1087" dy="15">+ setLanguageKey()</tspan><tspan x="1087" dy="15">+ getLanguageKey()</tspan><tspan x="1087" dy="15">+ setLoaded()</tspan><tspan x="1087" dy="15">+ getLoaded()</tspan><tspan x="1087" dy="15">+ setTranslations()</tspan><tspan x="1087" dy="15">+ getTranslations()</tspan><tspan x="1087" dy="15">+ getInstance()</tspan><tspan x="1087" dy="15"># __construct()</tspan><tspan x="1087" dy="15"># readFromCache()</tspan><tspan x="1087" dy="15"># readFromDB()</tspan></text></g>

<g id="LanguageLanguage" class="n"><rect x="781" y="1896" width="176" height="118"/><line x1="781" y1="1923" x2="957" y2="1923"/><line x1="781" y1="1948" x2="957" y2="1948"/><text class="c" x="869" y="1914">ILIAS\Language\Language</text>
<text x="787" y="1963">+ txt()<tspan x="787" dy="15">+ loadLanguageModule()</tspan><tspan x="787" dy="15">+ getLangKey()</tspan><tspan x="787" dy="15">+ toJS()</tspan></text></g>

<g id="ilObjUser" class="n"><rect x="2174" y="1573" width="199" height="759"/><line x1="2174" y1="1600" x2="2373" y2="1600"/><line x1="2174" y1="1929" x2="2373" y2="1929"/><text class="c" x="2273" y="1591">ilObjUser</text>
<text x="2180" y="1615">+ $login<tspan x="2180" dy="14.7">+ $gender</tspan><tspan x="2180" dy="14.7">+ $utitle</tspan><tspan x="2180" dy="14.7">+ $firstname</tspan><tspan x="2180" dy="14.7">+ $lastname</tspan><tspan x="2180" dy="14.7">+ $fullname</tspan><tspan x="2180" dy="14.7">+ $department</tspan><tspan x="2180" dy="14.7">+ $street</tspan><tspan x="2180" dy="14.7">+ $city</tspan><tspan x="2180" dy="14.7">+ $country</tspan><tspan x="2180" dy="14.7">and 12 more...</tspan><tspan x="2180" dy="14.7"># $time_limit_message</tspan><tspan x="2180" dy="14.7"># $last_login</tspan><tspan x="2180" dy="14.7"># $passwd</tspan><tspan x="2180" dy="14.7"># $password_encoding_type</tspan><tspan x="2180" dy="14.7"># $password_salt</tspan><tspan x="2180" dy="14.7"># $birthday</tspan><tspan x="2180" dy="14.7"># $second_email</tspan><tspan x="2180" dy="14.7"># $inactivation_date</tspan><tspan x="2180" dy="14.7"># $org_units</tspan><tspan x="2180" dy="14.7"># $last_profile_prompt</tspan><tspan x="2180" dy="14.7"># $avatar_rid</tspan></text>
<text x="2180" y="1944">+ __construct()<tspan x="2180" dy="14.7">+ read()</tspan><tspan x="2180" dy="14.7">+ getPasswordEncodingType()</tspan><tspan x="2180" dy="14.7">+ setPasswordEncodingType()</tspan><tspan x="2180" dy="14.7">+ getPasswordSalt()</tspan><tspan x="2180" dy="14.7">+ setPasswordSalt()</tspan><tspan x="2180" dy="14.7">+ assignData()</tspan><tspan x="2180" dy="14.7">+ saveAsNew()</tspan><tspan x="2180" dy="14.7">+ update()</tspan><tspan x="2180" dy="14.7">+ writeAccepted()</tspan><tspan x="2180" dy="14.7">and 169 more...</tspan><tspan x="2180" dy="14.7">+ _lookupFullname()</tspan><tspan x="2180" dy="14.7">+ _lookupEmail()</tspan><tspan x="2180" dy="14.7">+ _lookupGender()</tspan><tspan x="2180" dy="14.7">+ _lookupClientIP()</tspan><tspan x="2180" dy="14.7">+ _lookupName()</tspan><tspan x="2180" dy="14.7">+ _lookupFields()</tspan><tspan x="2180" dy="14.7">+ _lookupLogin()</tspan><tspan x="2180" dy="14.7">+ _lookupExternalAccount()</tspan><tspan x="2180" dy="14.7">+ _lookupId()</tspan><tspan x="2180" dy="14.7">+ _lookupLastLogin()</tspan><tspan x="2180" dy="14.7">and 62 more...</tspan><tspan x="2180" dy="14.7"># buildTextFromArray()</tspan><tspan x="2180" dy="14.7"># readMultiTextFields()</tspan><tspan x="2180" dy="14.7"># deleteMultiTextFields()</tspan><tspan x="2180" dy="14.7">- _lookup()</tspan><tspan x="2180" dy="14.7">- getLoginFromAuth()</tspan></text></g>

<g id="ilLanguage" class="n"><rect x="828" y="2403" width="178" height="328"/><line x1="828" y1="2430" x2="1006" y2="2430"/><line x1="828" y1="2455" x2="1006" y2="2455"/><text class="c" x="917" y="2421">ilLanguage</text>
<text x="834" y="2470">+ __construct()<tspan x="834" dy="15">+ getLangKey()</tspan><tspan x="834" dy="15">+ getDefaultLanguage()</tspan><tspan x="834" dy="15">+ getTextDirection()</tspan><tspan x="834" dy="15">+ getContentLanguage()</tspan><tspan x="834" dy="15">+ txtlng()</tspan><tspan x="834" dy="15">+ txt()</tspan><tspan x="834" dy="15">+ exists()</tspan><tspan x="834" dy="15">+ loadLanguageModule()</tspan><tspan x="834" dy="15">+ getInstalledLanguages()</tspan><tspan x="834" dy="15">and 7 more...</tspan><tspan x="834" dy="15">+ _getInstalledLanguages()</tspan><tspan x="834" dy="15">+ _lookupEntry()</tspan><tspan x="834" dy="15">+ lookupId()</tspan><tspan x="834" dy="15">+ getFallbackInstance()</tspan><tspan x="834" dy="15">+ getGlobalInstance()</tspan><tspan x="834" dy="15"># logUsage()</tspan><tspan x="834" dy="15"># isUsageLogEnabled()</tspan></text></g>

<g id="ilAccordionGUI" class="n g"><rect x="2013" y="2417" width="179" height="298"/><line x1="2013" y1="2444" x2="2192" y2="2444"/><line x1="2013" y1="2469" x2="2192" y2="2469"/><text class="c" x="2102" y="2435">ilAccordionGUI</text>
<text x="2019" y="2484">+ __construct()<tspan x="2019" dy="15">+ setId()</tspan><tspan x="2019" dy="15">+ getId()</tspan><tspan x="2019" dy="15">+ setOrientation()</tspan><tspan x="2019" dy="15">+ getOrientation()</tspan><tspan x="2019" dy="15">+ setContainerClass()</tspan><tspan x="2019" dy="15">+ getContainerClass()</tspan><tspan x="2019" dy="15">+ setInnerContainerClass()</tspan><tspan x="2019" dy="15">+ getInnerContainerClass()</tspan><tspan x="2019" dy="15">+ setHeaderClass()</tspan><tspan x="2019" dy="15">and 22 more...</tspan><tspan x="2019" dy="15">+ addJavaScript()</tspan><tspan x="2019" dy="15">+ addCss()</tspan><tspan x="2019" dy="15">+ getLocalJavascriptFiles()</tspan><tspan x="2019" dy="15">+ getLocalCssFiles()</tspan><tspan x="2019" dy="15"># getOnloadCode()</tspan></text></g>

<g id="ilCronDeleteInactiveUserReminderMail" class="n"><rect x="3754" y="745" width="212" height="193"/><line x1="3754" y1="787" x2="3966" y2="787"/><line x1="3754" y1="812" x2="3966" y2="812"/><text class="c" x="3860" y="763">ilCronDeleteInactiveUser<tspan x="3860" dy="15">ReminderMail</tspan></text>
<text x="3760" y="827">+ __construct()<tspan x="3760" dy="15">+ removeEntriesFromTableIf</tspan><tspan x="3760" dy="15">LastLoginIsNewer()</tspan><tspan x="3760" dy="15">+ sendReminderMailIfNeeded()</tspan><tspan x="3760" dy="15">+ flushDataTable()</tspan><tspan x="3760" dy="15">+ removeSingleUserFromTable()</tspan><tspan x="3760" dy="15">- persistMailSent()</tspan><tspan x="3760" dy="15">- sendReminder()</tspan></text></g>

<g id="Services" class="n"><rect x="2580" y="1089" width="159" height="193"/><line x1="2580" y1="1131" x2="2739" y2="1131"/><line x1="2580" y1="1156" x2="2739" y2="1156"/><text class="c" x="2659" y="1107">ILIAS\ResourceStorage<tspan x="2659" dy="15">\Services</tspan></text>
<text x="2586" y="1171">+ __construct()<tspan x="2586" dy="15">+ manage()</tspan><tspan x="2586" dy="15">+ manageContainer()</tspan><tspan x="2586" dy="15">+ consume()</tspan><tspan x="2586" dy="15">+ collection()</tspan><tspan x="2586" dy="15">+ flavours()</tspan><tspan x="2586" dy="15">+ preload()</tspan><tspan x="2586" dy="15">+ events()</tspan></text></g>

<g id="ilObjectDefinition" class="n"><rect x="4059" y="1016" width="216" height="343"/><line x1="4059" y1="1043" x2="4275" y2="1043"/><line x1="4059" y1="1068" x2="4275" y2="1068"/><text class="c" x="4167" y="1034">ilObjectDefinition</text>
<text x="4065" y="1083">+ __construct()<tspan x="4065" dy="15">+ readDefinitionData()</tspan><tspan x="4065" dy="15">+ getClassName()</tspan><tspan x="4065" dy="15">+ getLocation()</tspan><tspan x="4065" dy="15">+ getGroup()</tspan><tspan x="4065" dy="15">+ getGroupOfObj()</tspan><tspan x="4065" dy="15">+ hasCheckbox()</tspan><tspan x="4065" dy="15">+ getTranslationType()</tspan><tspan x="4065" dy="15">+ stopInheritance()</tspan><tspan x="4065" dy="15">+ getDevMode()</tspan><tspan x="4065" dy="15">and 38 more...</tspan><tspan x="4065" dy="15">+ getRepositoryObjectTypes</tspan><tspan x="4065" dy="15">ForComponent()</tspan><tspan x="4065" dy="15">+ getComponentForType()</tspan><tspan x="4065" dy="15">+ getGroupedRepositoryObject</tspan><tspan x="4065" dy="15">Types()</tspan><tspan x="4065" dy="15"># readPluginData()</tspan><tspan x="4065" dy="15"># parsePluginData()</tspan><tspan x="4065" dy="15"># getGroupedPluginObjectTypes()</tspan></text></g>

<g id="ilTreeImplementation" class="n"><rect x="4596" y="1075" width="180" height="223"/><line x1="4596" y1="1102" x2="4776" y2="1102"/><line x1="4596" y1="1127" x2="4776" y2="1127"/><text class="c" x="4686" y="1093">ilTreeImplementation</text>
<text x="4602" y="1142">+ getSubTreeIds()<tspan x="4602" dy="15">+ getSubTreeQuery()</tspan><tspan x="4602" dy="15">+ getTrashSubTreeQuery()</tspan><tspan x="4602" dy="15">+ getRelation()</tspan><tspan x="4602" dy="15">+ getPathIds()</tspan><tspan x="4602" dy="15">+ insertNode()</tspan><tspan x="4602" dy="15">+ deleteTree()</tspan><tspan x="4602" dy="15">+ moveToTrash()</tspan><tspan x="4602" dy="15">+ moveTree()</tspan><tspan x="4602" dy="15">+ getSubtreeInfo()</tspan><tspan x="4602" dy="15">+ validateParentRelations()</tspan></text></g>

<g id="ilAppEventHandler" class="n"><rect x="4834" y="1131" width="130" height="103"/><line x1="4834" y1="1158" x2="4964" y2="1158"/><line x1="4834" y1="1183" x2="4964" y2="1183"/><text class="c" x="4899" y="1149">ilAppEventHandler</text>
<text x="4840" y="1198">+ __construct()<tspan x="4840" dy="15">+ raise()</tspan><tspan x="4840" dy="15"># initListeners()</tspan></text></g>

<g id="ilRbacReview" class="n"><rect x="5972" y="964" width="218" height="440"/><line x1="5972" y1="991" x2="6190" y2="991"/><line x1="5972" y1="1016" x2="6190" y2="1016"/><text class="c" x="6081" y="982">ilRbacReview</text>
<text x="5978" y="1031">+ __construct()<tspan x="5978" dy="14.7">+ roleExists()</tspan><tspan x="5978" dy="14.7">+ getParentRoleIds()</tspan><tspan x="5978" dy="14.7">+ getRoleListByObject()</tspan><tspan x="5978" dy="14.7">+ getAssignableRoles()</tspan><tspan x="5978" dy="14.7">+ getAssignableRolesInSubtree()</tspan><tspan x="5978" dy="14.7">+ getAssignableChildRoles()</tspan><tspan x="5978" dy="14.7">+ getNumberOfAssignedUsers()</tspan><tspan x="5978" dy="14.7">+ assignedUsers()</tspan><tspan x="5978" dy="14.7">+ isAssigned()</tspan><tspan x="5978" dy="14.7">and 49 more...</tspan><tspan x="5978" dy="14.7">+ _getOperationIdsByName()</tspan><tspan x="5978" dy="14.7">+ _getOperationIdByName()</tspan><tspan x="5978" dy="14.7">+ lookupCreateOperationIds()</tspan><tspan x="5978" dy="14.7">+ _getOperationList()</tspan><tspan x="5978" dy="14.7">+ _groupOperationsByClass()</tspan><tspan x="5978" dy="14.7">+ _getCustomRBACOperationId()</tspan><tspan x="5978" dy="14.7">+ _isRBACOperation()</tspan><tspan x="5978" dy="14.7"># __getParentRoles()</tspan><tspan x="5978" dy="14.7"># __setTemplateFilter()</tspan><tspan x="5978" dy="14.7"># __setRoleType()</tspan><tspan x="5978" dy="14.7"># __setProtectedStatus()</tspan><tspan x="5978" dy="14.7">- getAssignableRolesGenerator()</tspan><tspan x="5978" dy="14.7">- setRoleTypeAndProtection()</tspan><tspan x="5978" dy="14.7">- buildRoleType()</tspan><tspan x="5978" dy="14.7">- buildProtectionByStringValue()</tspan></text></g>

<g id="ilRbacAdmin" class="n"><rect x="6114" y="1829" width="188" height="253"/><line x1="6114" y1="1856" x2="6302" y2="1856"/><line x1="6114" y1="1881" x2="6302" y2="1881"/><text class="c" x="6208" y="1847">ilRbacAdmin</text>
<text x="6120" y="1896">+ __construct()<tspan x="6120" dy="15">+ setBlockedStatus()</tspan><tspan x="6120" dy="15">+ removeUser()</tspan><tspan x="6120" dy="15">+ deleteRole()</tspan><tspan x="6120" dy="15">+ deleteTemplate()</tspan><tspan x="6120" dy="15">+ deleteLocalRole()</tspan><tspan x="6120" dy="15">+ assignUserLimited()</tspan><tspan x="6120" dy="15">+ assignUser()</tspan><tspan x="6120" dy="15">+ deassignUser()</tspan><tspan x="6120" dy="15">+ grantPermission()</tspan><tspan x="6120" dy="15">and 18 more...</tspan><tspan x="6120" dy="15"># applyMovedObjectDidactic</tspan><tspan x="6120" dy="15">Templates()</tspan></text></g>

<g id="ilTree" class="n"><rect x="4576" y="1765" width="221" height="377"/><line x1="4576" y1="1792" x2="4797" y2="1792"/><line x1="4576" y1="1813" x2="4797" y2="1813"/><text class="c" x="4686" y="1783">ilTree</text>
<text x="4582" y="1807"># DEFAULT_GAP</text>
<text x="4582" y="1828">+ __construct()<tspan x="4582" dy="14.7">+ initTreeImplementation()</tspan><tspan x="4582" dy="14.7">+ getTreeImplementation()</tspan><tspan x="4582" dy="14.7">+ useCache()</tspan><tspan x="4582" dy="14.7">+ getDepthCache()</tspan><tspan x="4582" dy="14.7">+ getParentCache()</tspan><tspan x="4582" dy="14.7">+ initLangCode()</tspan><tspan x="4582" dy="14.7">+ getTreeTable()</tspan><tspan x="4582" dy="14.7">+ getObjectDataTable()</tspan><tspan x="4582" dy="14.7">+ getTreePk()</tspan><tspan x="4582" dy="14.7">and 60 more...</tspan><tspan x="4582" dy="14.7">+ lookupTreesForNode()</tspan><tspan x="4582" dy="14.7">+ _removeEntry()</tspan><tspan x="4582" dy="14.7"># isCacheUsed()</tspan><tspan x="4582" dy="14.7"># resetInTreeCache()</tspan><tspan x="4582" dy="14.7"># fetchTranslationFromObject</tspan><tspan x="4582" dy="14.7">DataCache()</tspan><tspan x="4582" dy="14.7"># __renumber()</tspan><tspan x="4582" dy="14.7"># __checkDelete()</tspan><tspan x="4582" dy="14.7"># __getSubTreeByParentRelation()</tspan><tspan x="4582" dy="14.7"># __validateSubtrees()</tspan><tspan x="4582" dy="14.7"># isRepositoryTree()</tspan></text></g>

<g id="ilObject" class="n"><rect x="4576" y="2792" width="221" height="617"/><line x1="4576" y1="2819" x2="4797" y2="2819"/><line x1="4576" y1="2844" x2="4797" y2="2844"/><text class="c" x="4686" y="2810">ilObject</text>
<text x="4582" y="2859">+ getObjectProperties()<tspan x="4582" dy="14.7">+ flushObjectProperties()</tspan><tspan x="4582" dy="14.7">+ withReferences()</tspan><tspan x="4582" dy="14.7">+ processAutoRating()</tspan><tspan x="4582" dy="14.7">+ read()</tspan><tspan x="4582" dy="14.7">+ getId()</tspan><tspan x="4582" dy="14.7">+ setId()</tspan><tspan x="4582" dy="14.7">+ setRefId()</tspan><tspan x="4582" dy="14.7">+ getRefId()</tspan><tspan x="4582" dy="14.7">+ getType()</tspan><tspan x="4582" dy="14.7">and 40 more...</tspan><tspan x="4582" dy="14.7">+ _lookupObjIdByImportId()</tspan><tspan x="4582" dy="14.7">+ _lookupImportId()</tspan><tspan x="4582" dy="14.7">+ _lookupOwnerName()</tspan><tspan x="4582" dy="14.7">+ _getIdForImportId()</tspan><tspan x="4582" dy="14.7">+ _getAllReferences()</tspan><tspan x="4582" dy="14.7">+ _lookupTitle()</tspan><tspan x="4582" dy="14.7">+ lookupOfflineStatus()</tspan><tspan x="4582" dy="14.7">+ _lookupOwner()</tspan><tspan x="4582" dy="14.7">+ _getIdsForTitle()</tspan><tspan x="4582" dy="14.7">+ _lookupDescription()</tspan><tspan x="4582" dy="14.7">and 27 more...</tspan><tspan x="4582" dy="14.7"># doMDUpdateListener()</tspan><tspan x="4582" dy="14.7"># beforeMDUpdateListener()</tspan><tspan x="4582" dy="14.7"># doCreateMetaData()</tspan><tspan x="4582" dy="14.7"># beforeCreateMetaData()</tspan><tspan x="4582" dy="14.7"># doUpdateMetaData()</tspan><tspan x="4582" dy="14.7"># beforeUpdateMetaData()</tspan><tspan x="4582" dy="14.7"># doDeleteMetaData()</tspan><tspan x="4582" dy="14.7"># beforeDeleteMetaData()</tspan><tspan x="4582" dy="14.7"># handleAutoRating()</tspan><tspan x="4582" dy="14.7"># hasAutoRating()</tspan><tspan x="4582" dy="14.7">- appendCopyInfoToTranslations()</tspan><tspan x="4582" dy="14.7">- getCallbackForTitlesPerLanguage</tspan><tspan x="4582" dy="14.7">Transformation()</tspan><tspan x="4582" dy="14.7">- appendNumberOfCopiesToTitle()</tspan><tspan x="4582" dy="14.7">- isTitleUnique()</tspan><tspan x="4582" dy="14.7">- buildTitleWithoutCopySuffix()</tspan></text></g>

<g id="Properties" class="n"><rect x="6619" y="2432" width="236" height="268"/><line x1="6619" y1="2474" x2="6855" y2="2474"/><line x1="6619" y1="2499" x2="6855" y2="2499"/><text class="c" x="6737" y="2450">ILIAS\ILIASObject\Properties<tspan x="6737" dy="15">\Properties</tspan></text>
<text x="6625" y="2514">+ __construct()<tspan x="6625" dy="15">+ storeCoreProperties()</tspan><tspan x="6625" dy="15">+ getOwner()</tspan><tspan x="6625" dy="15">+ withOwner()</tspan><tspan x="6625" dy="15">+ getImportId()</tspan><tspan x="6625" dy="15">+ withImportId()</tspan><tspan x="6625" dy="15">+ getPropertyTitleAndDescription()</tspan><tspan x="6625" dy="15">+ withPropertyTitleAndDescription()</tspan><tspan x="6625" dy="15">+ storePropertyTitleAndDescription()</tspan><tspan x="6625" dy="15">+ getPropertyIsOnline()</tspan><tspan x="6625" dy="15">and 16 more...</tspan><tspan x="6625" dy="15">- updateMetadataForTitleAnd</tspan><tspan x="6625" dy="15">Description()</tspan></text></g>

<g id="Aggregator" class="n"><rect x="6880" y="2505" width="194" height="118"/><line x1="6880" y1="2547" x2="7074" y2="2547"/><line x1="6880" y1="2572" x2="7074" y2="2572"/><text class="c" x="6977" y="2523">ILIAS\ILIASObject\Properties<tspan x="6977" dy="15">\Aggregator</tspan></text>
<text x="6886" y="2587">+ __construct()<tspan x="6886" dy="15">+ getFor()</tspan><tspan x="6886" dy="15">+ preload()</tspan></text></g>
</svg>
